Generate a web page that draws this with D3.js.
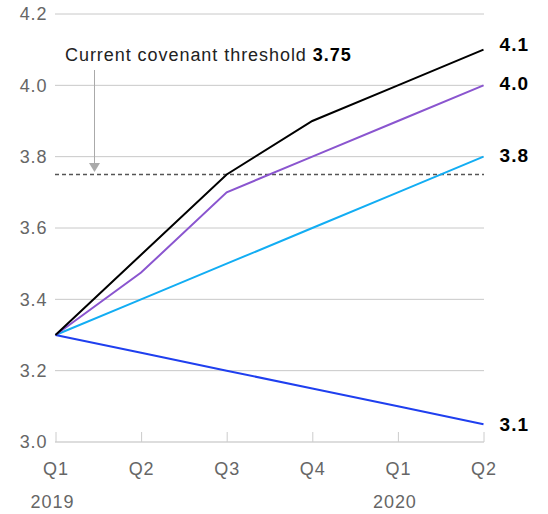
<!DOCTYPE html>
<html><head><meta charset="utf-8">
<script src="https://cdn.jsdelivr.net/npm/d3@7"></script>
<style>body{margin:0;background:#fff}svg{display:block}text{font-family:"Liberation Sans",Arial,sans-serif}</style>
</head><body><svg id="c" width="548" height="514"></svg>
<script>
const quarters = ["Q1","Q2","Q3","Q4","Q1","Q2"];
const years = [{i:0,label:"2019"},{i:4,label:"2020"}];
const yTicks = [3.0,3.2,3.4,3.6,3.8,4.0,4.2];
const seriesBlack = [3.3,3.525,3.75,3.9,4.0,4.1];
const seriesPurple = [3.3,3.475,3.7,3.8,3.9,4.0];
const seriesLightBlue = [3.3,3.4,3.5,3.6,3.7,3.8];
const seriesBlue = [3.3,3.25,3.2,3.15,3.1,3.05];
const endLabels = ["4.1","4.0","3.8","3.1"];
const threshold = 3.75;

const svg = d3.select("#c");
const x = d3.scaleLinear().domain([0,5]).range([55.5,483.5]);
const y = d3.scaleLinear().domain([3.0,4.2]).range([442,14]);
const FS = 18, LS = 0.95;

// gridlines
svg.append("g").selectAll("line").data(yTicks.filter(d=>d>3.0)).join("line")
  .attr("x1",55).attr("x2",484).attr("y1",d=>y(d)).attr("y2",d=>y(d))
  .attr("stroke","#c8c8c8").attr("stroke-width",1);
// y labels
svg.append("g").selectAll("text").data(yTicks).join("text")
  .attr("x",47.5).attr("y",d=>y(d)).attr("dy","0.36em").attr("text-anchor","end")
  .attr("font-size",FS).attr("letter-spacing",LS).attr("fill","#666").text(d=>d.toFixed(1));
// x axis
const xAxis = d3.axisTop(x).tickValues(d3.range(6)).tickSize(10).tickFormat("");
const gx = svg.append("g").attr("transform","translate(0,442)").call(xAxis);
gx.select(".domain").attr("stroke","#bbb").attr("d","M55,0H484");
gx.selectAll(".tick line").attr("stroke","#ccc");
svg.append("g").selectAll("text").data(quarters).join("text")
  .attr("x",(d,i)=>x(i)+0.5).attr("y",475).attr("text-anchor","middle")
  .attr("font-size",FS).attr("letter-spacing",LS).attr("fill","#666").text(d=>d);
svg.append("g").selectAll("text").data(years).join("text")
  .attr("x",d=>x(d.i)-3).attr("y",508).attr("text-anchor","middle")
  .attr("font-size",FS).attr("letter-spacing",LS).attr("fill","#666").text(d=>d.label);

// threshold dashed
svg.append("line").attr("x1",55).attr("x2",484).attr("y1",y(threshold)).attr("y2",y(threshold))
  .attr("stroke","#555").attr("stroke-width",1.3).attr("stroke-dasharray","4,3");

// annotation
svg.append("line").attr("x1",94.5).attr("x2",94.5).attr("y1",70).attr("y2",164)
  .attr("stroke","#aaa").attr("stroke-width",1);
svg.append("path").attr("d","M89,163L100,163L94.5,172Z").attr("fill","#aaa");
const ann = svg.append("text").attr("x",65).attr("y",61).attr("font-size",FS)
  .attr("letter-spacing",LS).attr("fill","#222");
ann.append("tspan").text("Current covenant threshold ");
ann.append("tspan").attr("font-weight","bold").attr("fill","#000").text(threshold.toFixed(2));

// lines
const series = [
  {v:seriesLightBlue,c:"#12adf3"},
  {v:seriesBlue,c:"#1f3fef"},
  {v:seriesPurple,c:"#8a55cf"},
  {v:seriesBlack,c:"#000"}
];
const line = d3.line().x((d,i)=>x(i)).y(d=>y(d));
svg.append("g").selectAll("path").data(series).join("path")
  .attr("d",d=>line(d.v)).attr("fill","none").attr("stroke",d=>d.c).attr("stroke-width",2);

// end labels
const ends = [
  {v:seriesBlack[5],t:endLabels[0],dy:-6},
  {v:seriesPurple[5],t:endLabels[1],dy:-2},
  {v:seriesLightBlue[5],t:endLabels[2],dy:-2},
  {v:seriesBlue[5],t:endLabels[3],dy:0}
];
svg.append("g").selectAll("text").data(ends).join("text")
  .attr("x",529).attr("y",d=>y(d.v)+d.dy).attr("dy","0.36em").attr("text-anchor","end")
  .attr("font-size",19).attr("letter-spacing",1).attr("font-weight","bold").attr("fill","#000").text(d=>d.t);
</script></body></html>
